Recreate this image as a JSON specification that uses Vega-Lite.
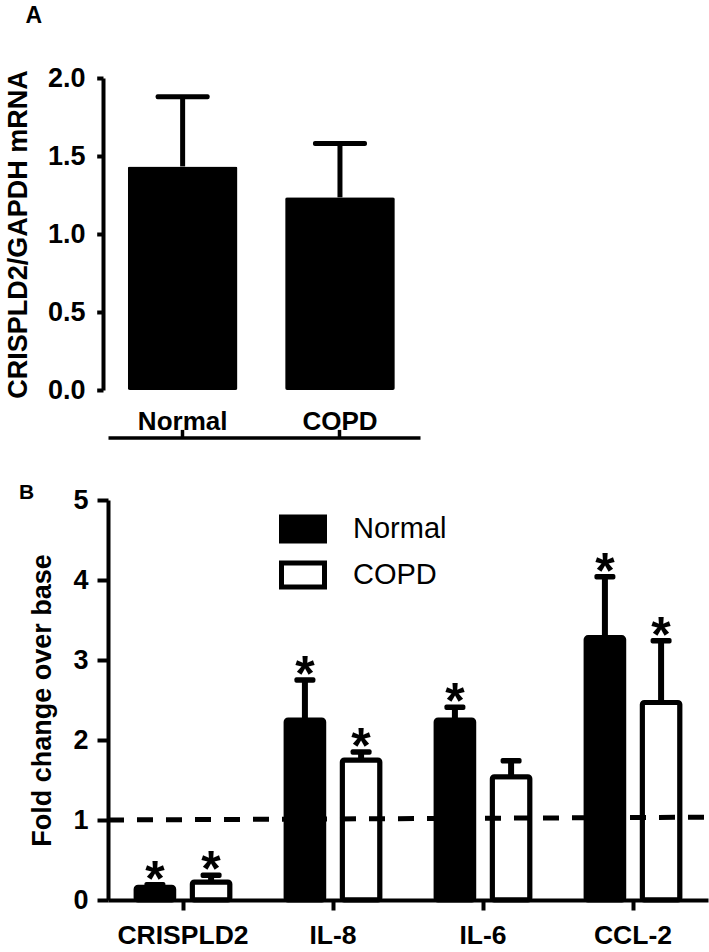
{
  "$schema": "https://vega.github.io/schema/vega-lite/v6.json",
  "padding": {"left": 4, "top": 5, "right": 0, "bottom": 0},
  "background": "white",
  "config": {
    "font": "Liberation Sans",
    "view": {"stroke": null},
    "axis": {"grid": false, "domainColor": "black", "tickColor": "black", "labelColor": "black", "titleColor": "black"},
    "title": {"color": "black"}
  },
  "spacing": 110,
  "bounds": "flush",
  "resolve": {"legend": {"fill": "independent"}},
  "vconcat": [
    {
      "title": {"text": "A", "anchor": "start", "fontSize": 23, "fontWeight": "bold", "dx": 21, "offset": 36},
      "width": 312,
      "height": 312,
      "data": {"values": [
        {"group": "Normal", "mean": 1.433, "err": 1.88},
        {"group": "COPD", "mean": 1.235, "err": 1.58}
      ]},
      "encoding": {
        "x": {
          "field": "group", "type": "nominal", "sort": ["Normal", "COPD"],
          "scale": {"paddingInner": 0.303, "paddingOuter": 0.143, "align": 0.44},
          "axis": {"title": null, "labelAngle": 0, "offset": 47.4, "domainWidth": 3.5, "tickSize": -8, "tickWidth": 3.5, "labelFontSize": 26, "labelFontWeight": "bold", "labelBaseline": "alphabetic", "labelPadding": 0}
        }
      },
      "layer": [
        {
          "mark": {"type": "bar", "color": "black", "cornerRadius": 2},
          "encoding": {
            "y": {
              "field": "mean", "type": "quantitative", "title": "CRISPLD2/GAPDH mRNA",
              "scale": {"domain": [0, 2]},
              "axis": {"values": [0, 0.5, 1, 1.5, 2], "format": ".1f", "offset": 5, "domainWidth": 4, "tickSize": 6.3, "tickWidth": 4, "labelFontSize": 27, "labelFontWeight": "bold", "labelPadding": 11.7, "titleFontSize": 27, "titleFontWeight": "bold", "titlePadding": 15}
            }
          }
        },
        {
          "mark": {"type": "rule", "color": "black", "strokeWidth": 5},
          "encoding": {"y": {"field": "mean", "type": "quantitative"}, "y2": {"field": "err"}}
        },
        {
          "mark": {"type": "tick", "fill": "black", "opacity": 1, "thickness": 5, "size": 54, "cornerRadius": 2},
          "encoding": {"y": {"field": "err", "type": "quantitative"}}
        }
      ]
    },
    {
      "title": {"text": "B", "anchor": "start", "fontSize": 21, "fontWeight": "bold", "dx": -10, "offset": -17},
      "width": 600,
      "height": 400,
      "resolve": {"scale": {"x": "independent"}},
      "layer": [
        {
          "data": {"values": [
            {"gene": "CRISPLD2", "group": "Normal", "mean": 0.16, "err": 0.19, "sig": "*"},
            {"gene": "CRISPLD2", "group": "COPD", "mean": 0.225, "err": 0.31, "sig": "*"},
            {"gene": "IL-8", "group": "Normal", "mean": 2.25, "err": 2.75, "sig": "*"},
            {"gene": "IL-8", "group": "COPD", "mean": 1.75, "err": 1.85, "sig": "*"},
            {"gene": "IL-6", "group": "Normal", "mean": 2.25, "err": 2.41, "sig": "*"},
            {"gene": "IL-6", "group": "COPD", "mean": 1.54, "err": 1.74, "sig": ""},
            {"gene": "CCL-2", "group": "Normal", "mean": 3.28, "err": 4.04, "sig": "*"},
            {"gene": "CCL-2", "group": "COPD", "mean": 2.47, "err": 3.24, "sig": "*"}
          ]},
          "encoding": {
            "x": {
              "field": "gene", "type": "nominal", "sort": ["CRISPLD2", "IL-8", "IL-6", "CCL-2"],
              "scale": {"paddingInner": 0, "paddingOuter": 0},
              "axis": {"title": null, "labelAngle": 0, "domainWidth": 4, "tickSize": 10, "tickWidth": 4, "labelFontSize": 26.5, "labelFontWeight": "bold", "labelBaseline": "alphabetic", "labelPadding": 33}
            },
            "xOffset": {"field": "group", "type": "nominal", "sort": ["Normal", "COPD"], "scale": {"paddingInner": 0.33, "paddingOuter": 0.5}}
          },
          "layer": [
            {
              "mark": {"type": "bar", "stroke": "black", "strokeWidth": 5, "cornerRadius": 2},
              "encoding": {
                "y": {
                  "field": "mean", "type": "quantitative", "title": "Fold change over base",
                  "scale": {"domain": [0, 5]},
                  "axis": {"values": [0, 1, 2, 3, 4, 5], "format": "d", "domainWidth": 4, "tickSize": 11, "tickWidth": 4, "labelFontSize": 27, "labelFontWeight": "bold", "labelPadding": 9, "titleFontSize": 27, "titleFontWeight": "bold", "titlePadding": 16}
                },
                "fill": {
                  "field": "group", "type": "nominal", "sort": ["Normal", "COPD"],
                  "scale": {"domain": ["Normal", "COPD"], "range": ["black", "white"]},
                  "legend": {"orient": "none", "legendX": 171, "legendY": 5, "title": null, "padding": 0, "symbolType": "M-1,-0.558H1V0.558H-1Z", "symbolSize": 1849, "symbolStrokeColor": "black", "symbolStrokeWidth": 5, "labelFontSize": 29, "labelColor": "black", "labelOffset": 26, "rowPadding": -2}
                }
              }
            },
            {
              "mark": {"type": "rule", "color": "black", "strokeWidth": 6},
              "encoding": {"y": {"field": "mean", "type": "quantitative"}, "y2": {"field": "err"}}
            },
            {
              "mark": {"type": "tick", "fill": "black", "opacity": 1, "thickness": 5.5, "size": 21, "cornerRadius": 2},
              "encoding": {"y": {"field": "err", "type": "quantitative"}}
            },
            {
              "mark": {"type": "text", "fontSize": 50, "fontWeight": "bold", "baseline": "alphabetic", "dy": 11, "color": "black"},
              "encoding": {"y": {"field": "err", "type": "quantitative"}, "text": {"field": "sig"}}
            }
          ]
        },
        {
          "data": {"values": [
            {"pos": 0, "level": 1.0},
            {"pos": 1, "level": 1.035}
          ]},
          "mark": {"type": "line", "color": "black", "strokeWidth": 5, "strokeDash": [16, 13]},
          "encoding": {
            "x": {"field": "pos", "type": "quantitative", "scale": {"domain": [0, 1], "nice": false, "zero": false}, "axis": null},
            "y": {"field": "level", "type": "quantitative"}
          }
        }
      ]
    }
  ]
}
